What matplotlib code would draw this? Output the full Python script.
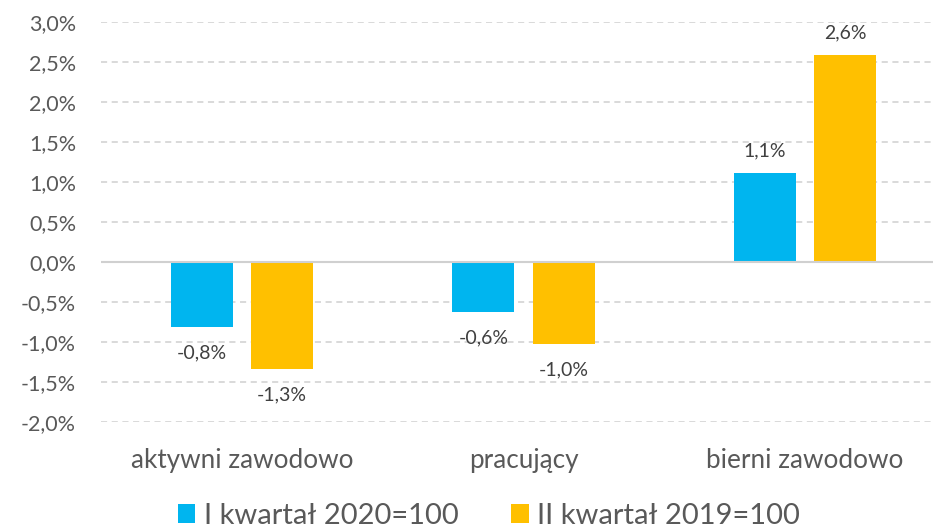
import matplotlib
matplotlib.use("Agg")
import matplotlib.pyplot as plt
import numpy as np

categories = ["aktywni zawodowo", "pracujący", "bierni zawodowo"]
series_names = ["I kwartał 2020=100", "II kwartał 2019=100"]
q1_2020 = [-0.81, -0.62, 1.11]
q2_2019 = [-1.34, -1.03, 2.59]
q1_labels = ["-0,8%", "-0,6%", "1,1%"]
q2_labels = ["-1,3%", "-1,0%", "2,6%"]
yticks = [-2.0, -1.5, -1.0, -0.5, 0.0, 0.5, 1.0, 1.5, 2.0, 2.5, 3.0]

colors = ["#00B5EF", "#FFC000"]
txt = "#595959"
plt.rcParams['font.family'] = ['Lato', 'DejaVu Sans']

W, H = 933, 530
fig = plt.figure(figsize=(W / 100, H / 100), dpi=100)
left_px, right_px = 101, 946
top_px, bot_px = 22, 422
ax = fig.add_axes([left_px / W, 1 - bot_px / H, (right_px - left_px) / W, (bot_px - top_px) / H])

x = np.arange(len(categories))
bw = 62 / 281.5
off = 40 / 281.5
b1 = ax.bar(x - off, q1_2020, bw, color=colors[0], label=series_names[0], zorder=3)
b2 = ax.bar(x + off, q2_2019, bw, color=colors[1], label=series_names[1], zorder=3)

for bars, labels in ((b1, q1_labels), (b2, q2_labels)):
    for rect, lab in zip(bars, labels):
        h = rect.get_height()
        cx = rect.get_x() + rect.get_width() / 2
        if h >= 0:
            ax.annotate(lab, (cx, h), xytext=(0, 10), textcoords="offset points",
                        ha="center", va="bottom", fontsize=14, color="#404040")
        else:
            ax.annotate(lab, (cx, h), xytext=(0, -12.5), textcoords="offset points",
                        ha="center", va="top", fontsize=14, color="#404040")

ax.set_xlim(-0.5, 2.5)
ax.set_ylim(-2.0, 3.0)
ax.set_yticks(yticks)
ax.set_yticklabels([f"{v:.1f}%".replace(".", ",") for v in yticks], fontsize=15.5, color=txt)
ax.set_xticks(x)
ax.set_xticklabels(categories, fontsize=18.8, color=txt)
ax.tick_params(axis="both", length=0)
ax.tick_params(axis="x", pad=19)
ax.tick_params(axis="y", pad=18)

for v in yticks:
    if v == 0:
        continue
    ax.axhline(v, color="#D0D0D0", lw=1.1, ls=(0, (4, 3)), zorder=1)
ax.axhline(0, color="#D0D0D0", lw=1.5, zorder=4)

for s in ax.spines.values():
    s.set_visible(False)

leg = fig.legend(handles=[b1, b2], labels=series_names, loc="center",
                 bbox_to_anchor=(489 / W, 1 - 516 / H), ncol=2, frameon=False,
                 fontsize=21, handlelength=0.6, handleheight=0.6, handletextpad=0.3,
                 columnspacing=1.8, borderpad=0.1)
for t in leg.get_texts():
    t.set_color(txt)

fig.savefig("out.png", dpi=100)
